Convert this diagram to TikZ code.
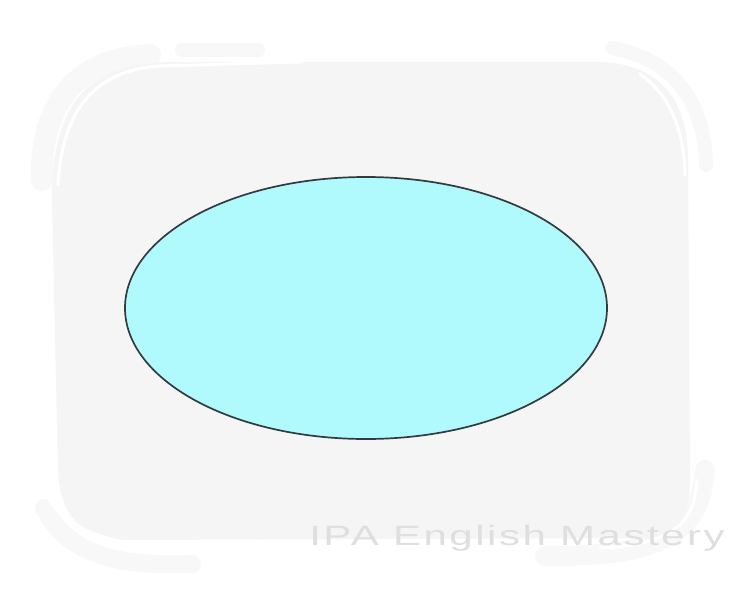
\documentclass[tikz,border=0pt]{standalone}
\usepackage{fontspec}
\usetikzlibrary{shapes.geometric}
\newfontfamily\wmfont[LetterSpace=6]{Liberation Sans}
\definecolor{panel}{HTML}{F5F5F6}
\definecolor{stroke}{HTML}{F8F8F8}
\definecolor{cyanfill}{HTML}{B0F9FD}
\definecolor{rim}{HTML}{323B40}
\definecolor{wm}{HTML}{DFDFE0}
\tikzset{
  brush/.style={draw=stroke,line width=#1,line cap=round,line join=round},
  carve/.style={draw=white,line width=#1,line cap=round},
}
\begin{document}
\begin{tikzpicture}[x=1pt,y=-1pt]
\useasboundingbox[fill=white] (0,0) rectangle (750,600);
% outer sketchy strokes
\draw[brush=22] (42,180) .. controls (40,100) and (80,58) .. (150,55);
\draw[brush=14] (182,50) -- (258,50);
\draw[brush=14] (612,48) .. controls (680,60) and (705,110) .. (706,165);
\draw[brush=18] (44,508) .. controls (70,560) and (130,566) .. (192,564);
\draw[brush=20] (545,556) .. controls (640,556) and (700,545) .. (705,470);
% panel
\path[fill=panel] (52,200) .. controls (52,100) and (90,64) .. (170,62)
  -- (600,62) .. controls (660,64) and (688,100) .. (688,160)
  -- (690,480) .. controls (690,525) and (670,538) .. (640,538)
  -- (130,540) .. controls (85,540) and (60,520) .. (58,470) -- cycle;
% white carving lines
\draw[carve=3] (58,185) .. controls (62,110) and (95,70) .. (160,66) -- (300,62);
\draw[carve=3] (640,74) .. controls (670,95) and (684,130) .. (685,175);
\draw[carve=4] (50,500) .. controls (75,535) and (110,545) .. (190,548);
\draw[carve=3] (697,480) .. controls (695,525) and (670,545) .. (600,548);
% ellipse
\node[draw=rim,fill=cyanfill,line width=1.7pt,ellipse,minimum width=482pt,minimum height=262pt,inner sep=0pt] (oval) at (366,308) {};
% watermark
\node[anchor=base west,inner sep=0pt,text=wm,xscale=1.5,font=\wmfont\fontsize{28}{28}\selectfont] (mark) at (309,545) {IPA English Mastery};
\end{tikzpicture}
\end{document}
